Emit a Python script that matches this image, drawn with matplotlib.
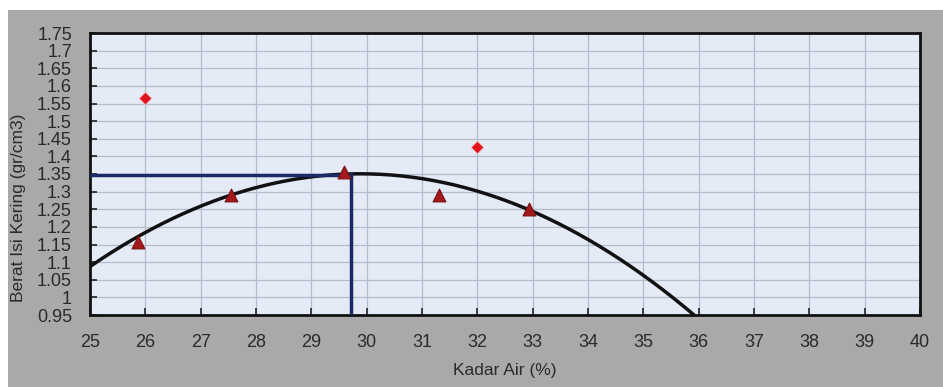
import numpy as np
import matplotlib
matplotlib.use("Agg")
import matplotlib.pyplot as plt
from matplotlib.patches import Rectangle

plt.rcParams["font.family"] = ["Liberation Sans", "DejaVu Sans"]

# Data
tri_x = [25.87, 27.55, 29.59, 31.31, 32.94]
tri_y = [1.157, 1.290, 1.355, 1.290, 1.252]
dia_x = [26.0, 32.0]
dia_y = [1.565, 1.428]
# trendline points
curve_x = [25.0, 26.0, 27.0, 28.0, 29.0, 30.0, 31.0, 32.0, 33.0, 34.0, 35.0, 35.9]
curve_y = [1.089, 1.178, 1.264, 1.312, 1.342, 1.350, 1.336, 1.300, 1.243, 1.165, 1.066, 0.950]
opt_x = 29.72
opt_y = 1.347

x_ticks = list(range(25, 41))
y_ticks = [0.95, 1.0, 1.05, 1.1, 1.15, 1.2, 1.25, 1.3, 1.35, 1.4, 1.45, 1.5,
           1.55, 1.6, 1.65, 1.7, 1.75]
y_tick_labels = ["0.95", "1", "1.05", "1.1", "1.15", "1.2", "1.25", "1.3", "1.35",
                 "1.4", "1.45", "1.5", "1.55", "1.6", "1.65", "1.7", "1.75"]

W, H = 943, 387
fig = plt.figure(figsize=(W / 100, H / 100), dpi=100)
fig.patch.set_facecolor("white")
bg = Rectangle((8 / W, 0), 1 - 8 / W, (H - 10) / H,
               transform=fig.transFigure, facecolor="#a9a9a9",
               edgecolor="none", zorder=-10)
fig.add_artist(bg)

ax = fig.add_axes([90 / W, (H - 315) / H, (920 - 90) / W, (315 - 33) / H])
ax.set_zorder(1)
ax.set_facecolor("#e4ebf6")
ax.set_xlim(25, 40)
ax.set_ylim(0.95, 1.75)
ax.set_xticks(x_ticks)
ax.set_yticks(y_ticks)
ax.set_yticklabels(y_tick_labels)
ax.grid(True, color="#b4bccb", linewidth=0.9)
ax.set_axisbelow(True)
for s in ax.spines.values():
    s.set_color("#111111")
    s.set_linewidth(2)
ax.tick_params(direction="in", length=5, width=1.2, colors="#222222",
               labelsize=13, labelcolor="#2a2a2a")
ax.tick_params(axis="x", pad=14)
ax.tick_params(axis="y", pad=13)

# trendline (2nd order polynomial through read points)
coef = np.polyfit(curve_x, curve_y, 2)
xs = np.linspace(25, 40, 400)
ys = np.polyval(coef, xs)
ax.plot(xs, ys, color="#111111", linewidth=2.5, zorder=3, clip_on=True)

ax.plot([25, opt_x], [opt_y, opt_y], color="#1b2a66", linewidth=2.5, zorder=4)
ax.plot([opt_x, opt_x], [0.95, opt_y], color="#1b2a66", linewidth=2.5, zorder=4)

ax.scatter(tri_x, tri_y, marker="^", s=85, color="#a3191c", edgecolor="#7a1010",
           linewidth=0.8, zorder=5)
ax.scatter(dia_x, dia_y, marker="D", s=42, color="#e0141e", edgecolor="#f2c0c0",
           linewidth=0.6, zorder=5)

ax.set_xlabel("Kadar Air (%)", fontsize=12.5, color="#2a2a2a", labelpad=8)
fig.text(19 / W, (H - 208) / H, "Berat Isi Kering (gr/cm3)", rotation=90,
         fontsize=12.5, color="#2a2a2a", ha="center", va="center", zorder=2)

fig.savefig("out.png", dpi=100, facecolor=fig.get_facecolor())
